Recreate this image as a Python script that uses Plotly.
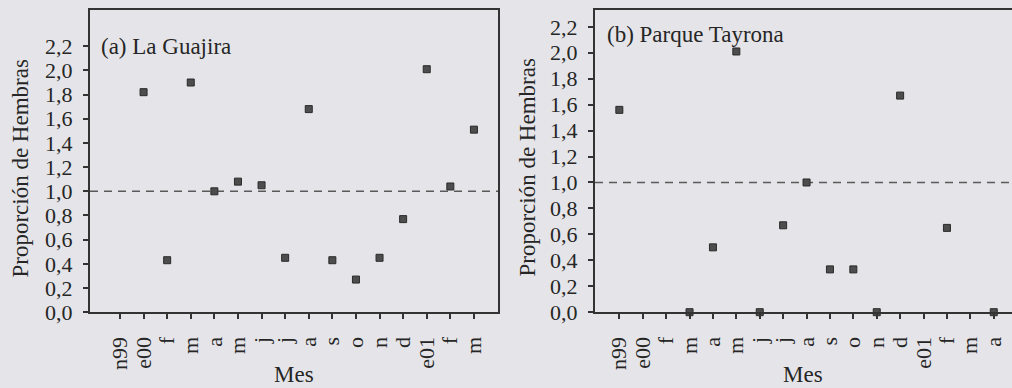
import plotly.graph_objects as go

# ---- data ----
months_a = ["n99", "e00", "f", "m", "a", "m", "j", "j", "a", "s", "o", "n", "d", "e01", "f", "m"]
guajira = [None, 1.82, 0.43, 1.90, 1.00, 1.08, 1.05, 0.45, 1.68, 0.43, 0.27, 0.45, 0.77, 2.01, 1.04, 1.51]

months_b = ["n99", "e00", "f", "m", "a", "m", "j", "j", "a", "s", "o", "n", "d", "e01", "f", "m", "a"]
tayrona = [1.56, None, None, 0.0, 0.50, 2.01, 0.0, 0.67, 1.00, 0.33, 0.33, 0.0, 1.67, None, 0.65, None, 0.0]

y_ticks = [0.0, 0.2, 0.4, 0.6, 0.8, 1.0, 1.2, 1.4, 1.6, 1.8, 2.0, 2.2]
REFERENCE = 1.0

FONT = "Liberation Serif"
BG = "#e5e5e9"
INK = "#262626"

W, H = 1012, 400
H_REF = 388

def px_x(p):
    return p / W

def px_y(p):
    return 1 - p / H_REF

fig = go.Figure()

marker = dict(symbol="square", size=7, color="#4d4d4d", line=dict(width=1, color="#2a2a2a"))

fig.add_trace(go.Scatter(x=list(range(len(months_a))), y=guajira, mode="markers",
                         marker=marker, xaxis="x", yaxis="y", showlegend=False, cliponaxis=False))
fig.add_trace(go.Scatter(x=list(range(len(months_b))), y=tayrona, mode="markers",
                         marker=marker, xaxis="x2", yaxis="y2", showlegend=False, cliponaxis=False))

common_x = dict(showline=True, linewidth=2, linecolor="#333", ticks="outside", ticklen=5,
                tickwidth=1.5, tickcolor="#333", tickangle=-90,
                tickfont=dict(family=FONT, size=22, color=INK),
                ticklabelstandoff=9, showgrid=False, zeroline=False)
common_y = dict(showline=True, linewidth=2, linecolor="#333", ticks="outside", ticklen=5,
                tickwidth=1.5, tickcolor="#333", tickfont=dict(family=FONT, size=22, color=INK),
                tickvals=y_ticks, tickformat=".1f", ticklabelstandoff=6,
                showgrid=False, zeroline=False)

fig.update_layout(
    width=W, height=H,
    margin=dict(l=0, r=0, t=0, b=0),
    paper_bgcolor=BG, plot_bgcolor=BG,
    separators=", ",
    font=dict(family=FONT, color=INK),
    xaxis=dict(domain=[px_x(90), px_x(498)], range=[-1.27, 16.02],
               tickvals=list(range(len(months_a))), ticktext=months_a,
               mirror=True, anchor="y", **common_x),
    yaxis=dict(domain=[px_y(313), px_y(10)], range=[0, 2.5], mirror=True, anchor="x", **common_y),
    xaxis2=dict(domain=[px_x(595), 1.0], range=[-1.04, 16.78],
                tickvals=list(range(len(months_b))), ticktext=months_b,
                mirror=True, anchor="y2", **common_x),
    yaxis2=dict(domain=[px_y(313), px_y(10)], range=[0, 2.33], mirror=False, anchor="x2", **common_y),
)

# reference lines at 1.0
for xr, yr in (("x domain", "y"), ("x2 domain", "y2")):
    fig.add_shape(type="line", xref=xr, yref=yr, x0=0, x1=1, y0=REFERENCE, y1=REFERENCE,
                  line=dict(color="#5a5a5a", width=1.5, dash="8px,6px"), layer="below")

titlefont = dict(family=FONT, size=23, color=INK)
ann = [
    dict(text="(a) La Guajira", x=px_x(99), y=px_y(47), xanchor="left", yanchor="middle"),
    dict(text="(b) Parque Tayrona", x=px_x(605), y=px_y(35), xanchor="left", yanchor="middle"),
    dict(text="Mes", x=px_x(294), y=px_y(375), xanchor="center", yanchor="middle"),
    dict(text="Mes", x=px_x(803), y=px_y(375), xanchor="center", yanchor="middle"),
    dict(text="Proporción de Hembras", x=px_x(21), y=px_y(169), xanchor="center", yanchor="middle", textangle=-90),
    dict(text="Proporción de Hembras", x=px_x(528), y=px_y(168), xanchor="center", yanchor="middle", textangle=-90),
]
for a in ann:
    fig.add_annotation(xref="paper", yref="paper", showarrow=False, font=titlefont, **a)

fig.write_html("out.html", config={"displayModeBar": False},
               post_script="document.body.style.margin='0';document.body.style.overflow='hidden';")
